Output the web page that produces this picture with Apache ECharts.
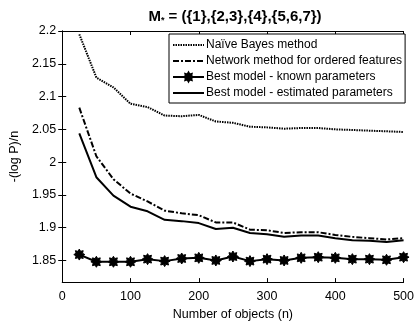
<!DOCTYPE html>
<html>
<head>
<meta charset="utf-8">
<script src="https://cdn.jsdelivr.net/npm/echarts@6/dist/echarts.min.js"></script>
<style>html,body{margin:0;padding:0;background:#fff}#c{width:417px;height:326px}</style>
</head>
<body>
<div id="c"></div>
<script>
var nObjects = [25,50,75,100,125,150,175,200,225,250,275,300,325,350,375,400,425,450,475,500];
var naiveBayes = [2.195,2.129,2.114,2.089,2.084,2.071,2.070,2.072,2.062,2.060,2.054,2.053,2.051,2.052,2.052,2.050,2.049,2.048,2.047,2.046];
var networkOrdered = [2.083,2.009,1.974,1.952,1.940,1.926,1.922,1.919,1.908,1.908,1.897,1.896,1.892,1.893,1.893,1.889,1.886,1.884,1.882,1.884];
var bestKnown = [1.859,1.848,1.848,1.848,1.852,1.849,1.853,1.854,1.850,1.856,1.849,1.852,1.850,1.854,1.855,1.854,1.852,1.852,1.851,1.855];
var bestEstimated = [2.044,1.977,1.949,1.932,1.925,1.912,1.910,1.907,1.898,1.900,1.892,1.890,1.886,1.888,1.888,1.884,1.881,1.880,1.878,1.881];
var yTicks = [1.85,1.9,1.95,2,2.05,2.1,2.15,2.2];
var xTicks = [0,100,200,300,400,500];
var seriesNames = ['Naïve Bayes method','Network method for ordered features','Best model - known parameters','Best model - estimated parameters'];
var titleText = 'M{s|*} = ({1},{2,3},{4},{5,6,7})';
var yName = '-(log P)/n';
var xName = 'Number of objects (n)';

function pairs(v){ return nObjects.map(function(x,i){ return [x, v[i]]; }); }
var FONT = 'Liberation Sans, Arial, sans-serif';
var starPath = 'path://M0,-10L2.4,-5.8L7.1,-7.1L5.8,-2.4L10,0L5.8,2.4L7.1,7.1L2.4,5.8L0,10L-2.4,5.8L-7.1,7.1L-5.8,2.4L-10,0L-5.8,-2.4L-7.1,-7.1L-2.4,-5.8Z';

var chart = echarts.init(document.getElementById('c'), null, {renderer:'canvas'});
var axisCommon = {
  axisLine:{show:true, lineStyle:{color:'#000', width:1}},
  splitLine:{show:false}
};
chart.setOption({
  animation:false,
  backgroundColor:'#fff',
  textStyle:{fontFamily:FONT, color:'#000'},
  title:{
    text:titleText, left:230, top:3, textAlign:'center',
    textStyle:{fontFamily:FONT, fontWeight:'bold', fontSize:15, color:'#000',
      rich:{s:{fontFamily:FONT, fontWeight:'bold', fontSize:9, color:'#000', padding:[8,0,0,0]}}}
  },
  grid:{left:55, right:11.5, top:31, bottom:38.7, containLabel:false},
  legend:{
    orient:'vertical', left:169, top:34, width:233,
    padding:[5,3,4,3], itemGap:4, itemWidth:31, itemHeight:11,
    backgroundColor:'#fff', borderColor:'#000', borderWidth:1, borderRadius:0,
    textStyle:{fontFamily:FONT, fontSize:12, color:'#000', padding:[0,0,0,-3]},
    data:[
      {name:seriesNames[0], itemStyle:{opacity:0}},
      {name:seriesNames[1], itemStyle:{opacity:0}},
      {name:seriesNames[2]},
      {name:seriesNames[3], itemStyle:{opacity:0}}
    ]
  },
  xAxis:[
    Object.assign({type:'value', min:0, max:500, interval:100, position:'bottom',
      axisTick:{show:true, inside:true, length:4, lineStyle:{color:'#000'}},
      axisLabel:{show:true, margin:8, fontSize:12.5, color:'#000', fontFamily:FONT},
      name:xName, nameLocation:'middle', nameGap:24,
      nameTextStyle:{fontSize:12.5, color:'#000', fontFamily:FONT}}, axisCommon),
    Object.assign({type:'value', min:0, max:500, interval:100, position:'top',
      axisTick:{show:true, inside:true, length:4, lineStyle:{color:'#000'}},
      axisLabel:{show:false}}, axisCommon)
  ],
  yAxis:[
    Object.assign({type:'value', min:1.817, max:2.2, position:'left',
      axisTick:{show:true, inside:true, length:4, customValues:yTicks, lineStyle:{color:'#000'}},
      axisLabel:{show:true, margin:6, fontSize:12.5, color:'#000', fontFamily:FONT, customValues:yTicks,
        formatter:function(v){ return String(Math.round(v*100)/100); }},
      name:yName, nameLocation:'middle', nameGap:38, nameRotate:90,
      nameTextStyle:{fontSize:12.5, color:'#000', fontFamily:FONT}}, axisCommon),
    Object.assign({type:'value', min:1.817, max:2.2, position:'right',
      axisTick:{show:true, inside:true, length:4, customValues:yTicks, lineStyle:{color:'#000'}},
      axisLabel:{show:false}}, axisCommon)
  ],
  series:[
    {name:seriesNames[0], type:'line', data:pairs(naiveBayes), symbol:'none',
      lineStyle:{color:'#000', width:2, type:[1.5,1]}, itemStyle:{color:'#000'}},
    {name:seriesNames[1], type:'line', data:pairs(networkOrdered), symbol:'none',
      lineStyle:{color:'#000', width:2, type:[6,2,2,2]}, itemStyle:{color:'#000'}},
    {name:seriesNames[2], type:'line', data:pairs(bestKnown), symbol:starPath, symbolSize:11,
      lineStyle:{color:'#000', width:2}, itemStyle:{color:'#000', borderColor:'#000', borderWidth:1}},
    {name:seriesNames[3], type:'line', data:pairs(bestEstimated), symbol:'none',
      lineStyle:{color:'#000', width:2}, itemStyle:{color:'#000'}}
  ]
});
</script>
</body>
</html>
